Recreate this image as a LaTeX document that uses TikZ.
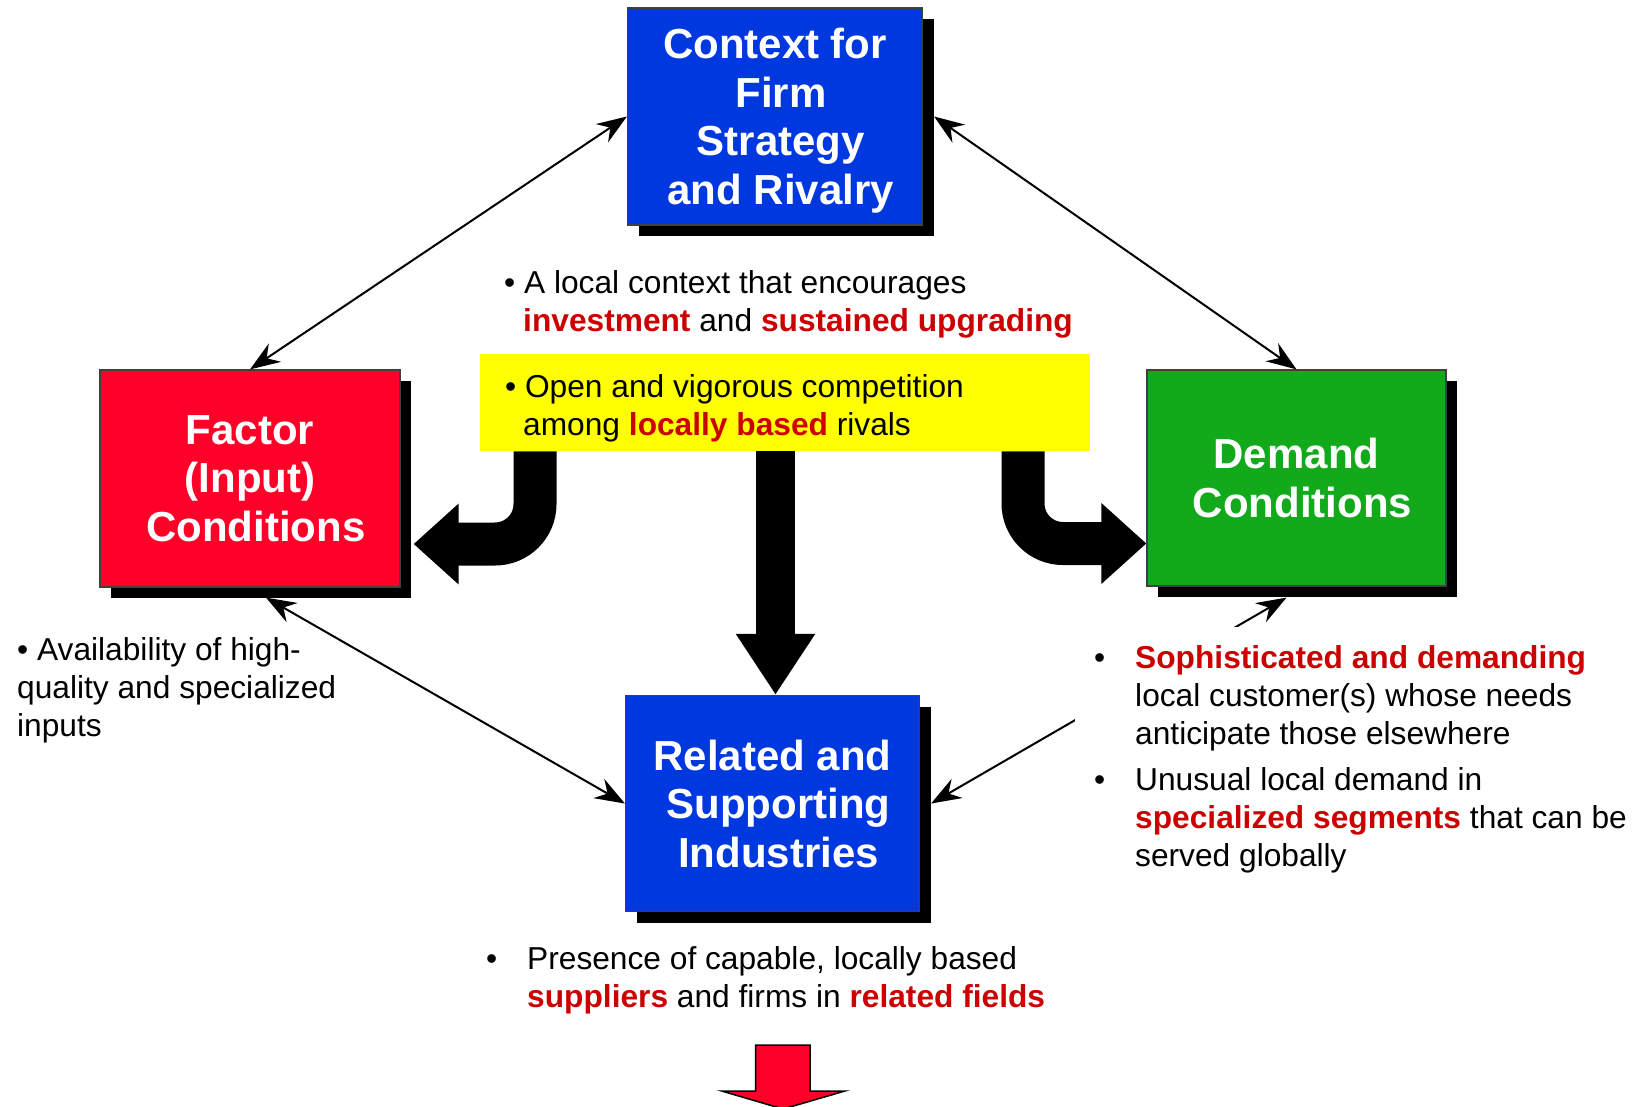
\documentclass[tikz,border=0pt]{standalone}
\usepackage{fontspec}
\setmainfont{Liberation Sans}
\usetikzlibrary{arrows.meta,shadows}

\definecolor{boxblue}{RGB}{0,56,224}
\definecolor{boxred}{RGB}{255,0,40}
\definecolor{boxgreen}{RGB}{18,170,26}
\definecolor{hilite}{RGB}{255,255,0}
\definecolor{keyred}{RGB}{204,0,0}

% emphasised words in the notes
\newcommand{\keyword}[1]{\textcolor{keyred}{\textbf{#1}}}
% leading space of an indented box line
\newcommand{\lead}{\hspace*{11.7pt}}
% bullet cell of a hanging list
\newcommand{\itembullet}{\makebox[41pt][l]{\textbullet}}

\begin{document}
\begin{tikzpicture}[x=1pt,y=-1pt,
  force/.style={draw=black!75, line width=1.2pt, text=white, align=center,
    font=\fontsize{42}{48.5}\selectfont\bfseries, inner sep=0pt,
    drop shadow={fill=black, opacity=1, shadow xshift=11pt, shadow yshift=-11pt}},
  body/.style={font=\fontsize{31.7}{38}\selectfont, align=left, inner sep=0pt},
  link/.style={line width=2pt,
    arrows={Stealth[length=30pt,width=22pt,inset=10pt]-Stealth[length=30pt,width=22pt,inset=10pt]}},
  turnarrow/.style={line width=43pt, rounded corners=40pt, arrows={-Triangle[length=45pt,width=78pt]}},
  pusharrow/.style={line width=39pt, arrows={-Triangle[length=61pt,width=75pt]}}
]
% page
\path[fill=white, use as bounding box] (0,0) rectangle (1641,1106);

% the four boxes
\node[force, fill=boxblue, minimum width=295pt, minimum height=217pt, text depth=0pt]
  (context) at (775,116.5) {Context for\\\lead Firm\\\lead Strategy\\\lead and Rivalry};
\node[force, fill=boxred, minimum width=300pt, minimum height=217pt]
  (factor) at (250,478.5) {Factor\\(Input)\\\lead Conditions};
\node[force, fill=boxgreen, minimum width=299pt, minimum height=216pt]
  (demand) at (1296.5,478) {Demand\\\lead Conditions};
\node[force, fill=boxblue, minimum width=294pt, minimum height=216pt]
  (related) at (772.5,803.5) {Related and\\\lead Supporting\\\lead Industries};

% two-way links between the boxes
\draw[link] (factor.north) -- (context.west);
\draw[link] ([xshift=11pt]context.east) -- (demand.north);
\draw[link] ([xshift=16pt,yshift=-10pt]factor.south) -- (related.west);
\draw[link] ([xshift=-10pt,yshift=-11pt]demand.south) -- ([xshift=11pt]related.east);

% rivalry band and the three block arrows leaving it
\node[fill=hilite, minimum width=609.5pt, minimum height=97pt, inner sep=0pt, anchor=north west]
  (rivalry) at (480,354) {};
\draw[turnarrow] ([xshift=55pt]rivalry.south west) |- ([xshift=13pt,yshift=-65.5pt]factor.east);
\draw[turnarrow] ([xshift=543pt]rivalry.south west) |- ([yshift=-65.5pt]demand.west);
\draw[pusharrow] ([xshift=3pt]related.north |- rivalry.south) -- ([xshift=3pt]related.north);

% notes (base anchor sits on the last line)
\node[body, anchor=base west] (contextnote) at (504,331)
  {\textbullet\ A local context that encourages\\\hspace*{19pt}\keyword{investment} and \keyword{sustained upgrading}};
\node[body, anchor=base west] (rivalrynote) at (505,435)
  {\textbullet\ Open and vigorous competition\\\hspace*{18pt}among \keyword{locally based} rivals};
\node[body, anchor=base west] (factornote) at (17,736)
  {\textbullet\ Availability of high-\\quality and specialized\\inputs};
\node[body, anchor=base west, fill=white, inner xsep=19pt, inner ysep=14.4pt] (demandnote) at (1075,668)
  {\begin{tabular}[t]{@{}l@{}l@{}}
   \itembullet & \keyword{Sophisticated and demanding}\\
               & local customer(s) whose needs\\
               & anticipate those elsewhere\\[8pt]
   \itembullet & Unusual local demand in\\
               & \keyword{specialized segments} that can be\\
               & served globally
   \end{tabular}};
\node[body, anchor=base west] (relatednote) at (486,969)
  {\begin{tabular}[t]{@{}l@{}l@{}}
   \itembullet & Presence of capable, locally based\\
               & \keyword{suppliers} and firms in \keyword{related fields}
   \end{tabular}};

% outcome arrow at the foot
\draw[line width=1.5pt, fill=boxred, line join=miter]
  (755.7,1045) -- (810,1045) -- (810,1091) -- (845,1091) -- (783,1109)
  -- (721.7,1091) -- (755.7,1091) -- cycle;
\end{tikzpicture}
\end{document}
